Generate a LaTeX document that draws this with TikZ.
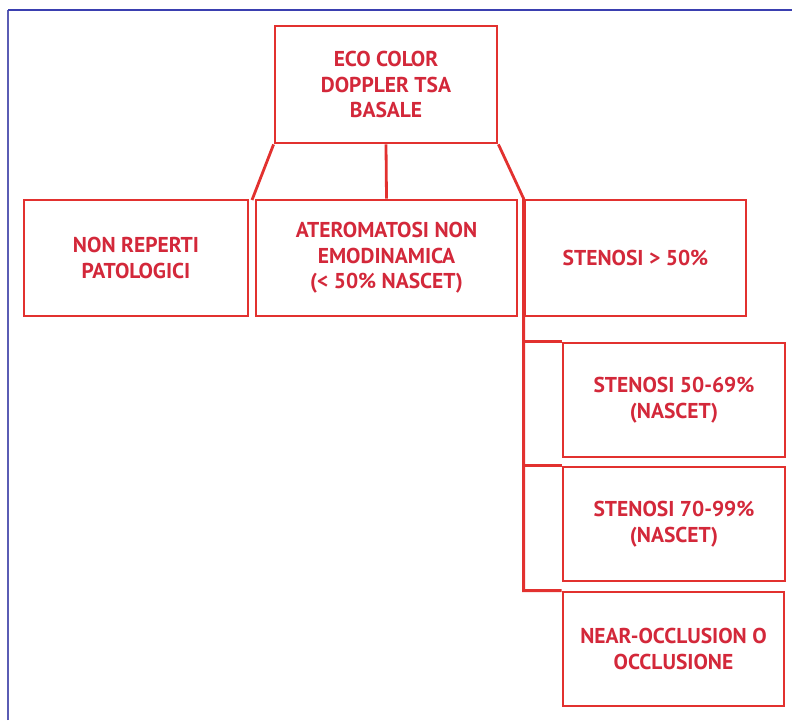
\documentclass[tikz,border=0pt]{standalone}
\usepackage{fontspec}
\setmainfont{PT Sans}
\definecolor{boxred}{HTML}{E2312F}
\definecolor{txtred}{HTML}{D3283A}
\definecolor{framea}{HTML}{3A3FB0}
\definecolor{frameb}{HTML}{5A5CB4}
\tikzset{
  boxnode/.style={draw=boxred, line width=2.8pt, rectangle, align=center,
    text=txtred, font=\fontsize{21.5}{25.5}\selectfont\bfseries, inner sep=0pt},
  link/.style={draw=boxred, line width=2.8pt},
}
\begin{document}
\begin{tikzpicture}[x=1pt,y=-1pt]
\useasboundingbox (0,0) rectangle (792,720);
\draw[frameb, line width=2pt] (8,720) -- (8,10);
\draw[framea, line width=1.6pt] (8,10) -- (792,10);

\node[boxnode, minimum width=222pt, minimum height=117pt] (root) at (386,84.5) {ECO COLOR\\DOPPLER TSA\\BASALE};
\node[boxnode, minimum width=224pt, minimum height=116pt] (b1) at (136,258) {NON REPERTI\\PATOLOGICI};
\node[boxnode, minimum width=261pt, minimum height=116pt] (b2) at (386.5,258) {ATEROMATOSI NON\\EMODINAMICA\\(< 50\% NASCET)};
\node[boxnode, minimum width=221pt, minimum height=116pt] (b3) at (635.5,258) {STENOSI > 50\%};
\node[boxnode, minimum width=222pt, minimum height=114pt] (c1) at (674,400) {STENOSI 50-69\%\\(NASCET)};
\node[boxnode, minimum width=222pt, minimum height=114pt] (c2) at (674,524) {STENOSI 70-99\%\\(NASCET)};
\node[boxnode, minimum width=221pt, minimum height=114pt] (c3) at (673.5,649) {NEAR-OCCLUSION O\\OCCLUSIONE};

\coordinate (lj) at (252,200);
\draw[link] (root.south west) -- (lj);
\draw[link] (root.south) -- (b2.north);
\coordinate (v3) at (b3.north west |- c3.north);
\draw[link] (root.south east) -- (b3.north west) -- (v3) -- (c3.north west);
\draw[link] (b3.north west |- c1.north) -- (c1.north west);
\draw[link] (b3.north west |- c2.north) -- (c2.north west);
\end{tikzpicture}
\end{document}
